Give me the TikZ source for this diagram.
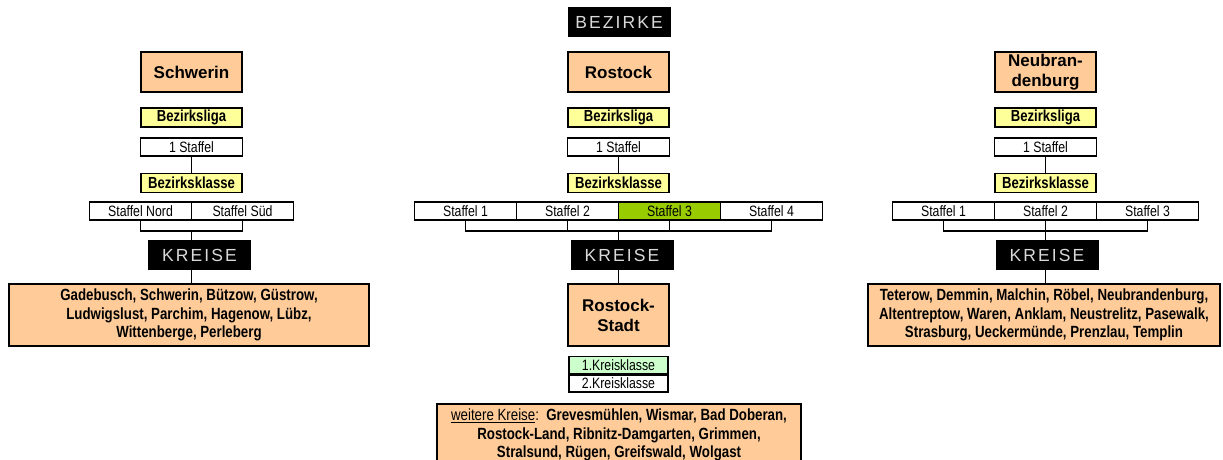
\documentclass[tikz,border=0pt]{standalone}
\usepackage{fontspec}
\setmainfont{Liberation Sans}
\newfontfamily\narrowfont[FakeStretch=0.82]{Liberation Sans}
\newfontfamily\widefont[LetterSpace=12]{Liberation Sans}
\usetikzlibrary{positioning}
\definecolor{bezorange}{HTML}{FFCC99}
\definecolor{ligagelb}{HTML}{FFFF99}
\definecolor{staffelgruen}{HTML}{99CC00}
\definecolor{kreisgruen}{HTML}{CCFFCC}
\tikzset{
    box/.style={draw, line width=1.8pt, inner sep=0pt, align=center},
    bezirk/.style={box, fill=bezorange, minimum width=101pt, minimum height=40pt,
        font=\fontsize{17}{20}\selectfont\bfseries},
    liga/.style={box, fill=ligagelb, minimum width=101pt, minimum height=19pt,
        font=\narrowfont\fontsize{16}{18}\selectfont\bfseries},
    staffel/.style={box, fill=white, minimum width=102pt, minimum height=18pt,
        font=\narrowfont\fontsize{15}{18}\selectfont},
    schwarzbox/.style={fill=black, text=white!85!black, minimum width=103pt,
        minimum height=30pt, inner sep=0pt, font=\widefont\fontsize{17.5}{18}\selectfont},
    liste/.style={box, fill=bezorange, minimum height=62pt,
        font=\narrowfont\fontsize{16.2}{18.5}\selectfont\bfseries},
    linie/.style={line width=1.8pt}
}

\begin{document}
\begin{tikzpicture}[x=1pt, y=-1pt]
    \useasboundingbox (0,0) rectangle (1223,460);
    \clip (0,0) rectangle (1223,460);

    \node [schwarzbox] (bezirke) at (619,22) {BEZIRKE};

    % Schwerin
    \begin{scope}[shift={(191.5,0)}]
        \node [bezirk] (sbez) at (0,72) {Schwerin};
        \node [liga] (sliga) at (0,117.5) {Bezirksliga};
        \node [staffel] (seins) at (0,147) {1 Staffel};
        \node [liga] (sklasse) at (0,183) {Bezirksklasse};
        \node [staffel] (snord) at (-51,211) {Staffel Nord};
        \node [staffel] (ssued) at (51,211) {Staffel Süd};
        \coordinate (sbr) at (0,231);
        \node [schwarzbox] (skreise) at (8,255) {KREISE};
        \node [liste, minimum width=360pt] (sliste) at (-2.5,315)
            {Gadebusch, Schwerin, Bützow, Güstrow,\\ Ludwigslust, Parchim, Hagenow, Lübz,\\ Wittenberge, Perleberg};
    \end{scope}
    \draw [linie] (seins) -- (sklasse);
    \draw [linie] (snord.south) |- (sbr) -| (ssued.south);
    \draw [linie] (sbr) -- (sbr |- skreise.north);
    \draw [linie] (sbr |- skreise.south) -- (sbr |- sliste.north);

    % Rostock
    \begin{scope}[shift={(618.5,0)}]
        \node [bezirk] (rbez) at (0,72) {Rostock};
        \node [liga] (rliga) at (0,117.5) {Bezirksliga};
        \node [staffel] (reins) at (0,147) {1 Staffel};
        \node [liga] (rklasse) at (0,183) {Bezirksklasse};
        \node [staffel] (rst1) at (-153,211) {Staffel 1};
        \node [staffel] (rst2) at (-51,211) {Staffel 2};
        \node [staffel, fill=staffelgruen] (rst3) at (51,211) {Staffel 3};
        \node [staffel] (rst4) at (153,211) {Staffel 4};
        \coordinate (rbr) at (0,231);
        \node [schwarzbox] (rkreise) at (3.5,255) {KREISE};
        \node [bezirk, minimum height=62pt] (rstadt) at (0,315) {Rostock-\\Stadt};
        \node [staffel, fill=kreisgruen, minimum width=99pt, minimum height=17pt] (rkk1) at (0,365) {1.Kreisklasse};
        \node [staffel, minimum width=99pt, minimum height=17pt] (rkk2) at (0,383.5) {2.Kreisklasse};
        \node [liste, minimum width=364pt] (rliste) at (0.5,435)
            {{\mdseries\underline{weitere Kreise}:}\ \ Grevesmühlen, Wismar, Bad Doberan,\\ Rostock-Land, Ribnitz-Damgarten, Grimmen,\\ Stralsund, Rügen, Greifswald, Wolgast};
    \end{scope}
    \draw [linie] (reins) -- (rklasse);
    \draw [linie] (rst1.south) |- (rbr) -| (rst4.south);
    \draw [linie] (rst2.south) -- (rst2.south |- rbr);
    \draw [linie] (rst3.south) -- (rst3.south |- rbr);
    \draw [linie] (rbr) -- (rbr |- rkreise.north);
    \draw [linie] (rbr |- rkreise.south) -- (rstadt);

    % Neubrandenburg
    \begin{scope}[shift={(1045.5,0)}]
        \node [bezirk] (nbez) at (0,72) {Neubran-\\denburg};
        \node [liga] (nliga) at (0,117.5) {Bezirksliga};
        \node [staffel] (neins) at (0,147) {1 Staffel};
        \node [liga] (nklasse) at (0,183) {Bezirksklasse};
        \node [staffel] (nst1) at (-102,211) {Staffel 1};
        \node [staffel] (nst2) at (0,211) {Staffel 2};
        \node [staffel] (nst3) at (102,211) {Staffel 3};
        \coordinate (nbr) at (0,231);
        \node [schwarzbox] (nkreise) at (1.5,255) {KREISE};
        \node [liste, minimum width=352pt] (nliste) at (-1.5,315)
            {Teterow, Demmin, Malchin, Röbel, Neubrandenburg,\\ Altentreptow, Waren, Anklam, Neustrelitz, Pasewalk,\\ Strasburg, Ueckermünde, Prenzlau, Templin};
    \end{scope}
    \draw [linie] (neins) -- (nklasse);
    \draw [linie] (nst1.south) |- (nbr) -| (nst3.south);
    \draw [linie] (nst2.south) -- (nbr);
    \draw [linie] (nbr) -- (nbr |- nkreise.north);
    \draw [linie] (nbr |- nkreise.south) -- (nbr |- nliste.north);
\end{tikzpicture}
\end{document}
